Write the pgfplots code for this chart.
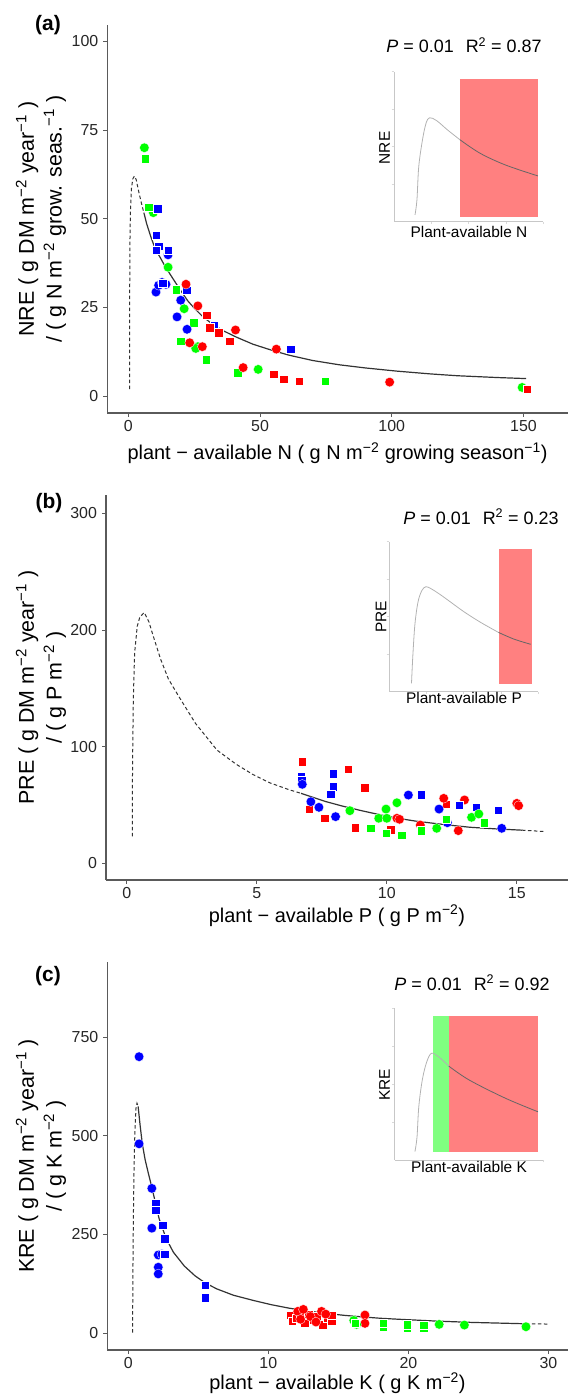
\documentclass[border=0pt]{standalone}
\usepackage{fontspec}
\setmainfont{Liberation Sans}
\usepackage{pgfplots}
\pgfplotsset{compat=1.18}

\definecolor{fitgray}{RGB}{51,51,51}
\definecolor{axgray}{RGB}{90,90,90}

\pgfplotsset{
  mainax/.style={anchor=south west, scale only axis, clip=false,
    axis x line*=bottom, axis y line*=left,
    axis line style={axgray, line width=1.1bp},
    tick align=outside, major tick length=4bp,
    tick style={axgray, line width=0.9bp},
    ticklabel style={font=\fontsize{16}{18}\selectfont, text=black!85},
    yticklabel style={xshift=-1.5bp},
    /pgf/number format/assume math mode=true},
  inset/.style={anchor=south west, scale only axis, clip=false,
    xmin=0, xmax=100, ymin=0, ymax=100,
    axis x line*=bottom, axis y line*=left,
    axis line style={black!22, line width=0.7bp},
    tick align=outside, major tick length=2.5bp,
    tick style={black!15, line width=0.5bp},
    xtick={25,50,75,100}, ytick={25,50,75,100},
    xticklabels={}, yticklabels={}},
  fit/.style={no marks, fitgray, line width=1.2bp},
  extra/.style={no marks, fitgray, line width=1bp, dash pattern=on 3.5bp off 2.5bp},
  icurve/.style={no marks, smooth, tension=0.55, line width=0.8bp},
  pc/.style={only marks, mark=*, mark size=4.8bp, mark options={fill=#1, draw=white, line width=0.3bp}},
  ps/.style={only marks, mark=square*, mark size=4.3bp, mark options={fill=#1, draw=white, line width=0.3bp}},
}

\newcommand{\lab}{\fontsize{20}{27}\selectfont}
\newcommand{\ylab}{\fontsize{21.5}{28}\selectfont}
\newcommand{\anno}{\fontsize{18}{20}\selectfont}
\newcommand{\ins}{\fontsize{15.5}{17}\selectfont}

\begin{document}
\begin{tikzpicture}
\path[use as bounding box] (0bp,0bp) rectangle (568bp,1400bp);

% ---------------- (a) NRE ----------------
\begin{axis}[mainax, at={(107.3bp,987bp)}, width=460.7bp, height=388.3bp,
  xmin=-7.97, xmax=166.9, ymin=-4.8, ymax=104.7,
  xtick={0,50,100,150}, ytick={0,25,50,75,100}]
\addplot[extra] coordinates {(0.5,1.9) (0.52,20) (0.56,35) (0.65,45) (0.85,53) (1.2,58.5)
  (1.7,61.2) (2.3,62) (3.0,61) (4.0,57.5) (5.0,54.3) (5.9,51.7)};
\addplot[fit] coordinates {(5.9,51.7) (7,48.5) (8.5,45) (10.3,41.3) (12,39.2) (14,36.5)
  (17.1,32.9) (20,29.6) (22.6,26.8) (25,24.8) (28.1,22.5) (32,20.2) (36.3,18.3) (41,16.6)
  (47.3,14.6) (54,13) (61,11.5) (70,10) (80,8.8) (90,7.9) (102,7.0) (115,6.2) (125,5.7)
  (140,5.2) (151,4.9)};
\addplot[pc=green] coordinates {(6.1,70.0) (9.5,51.7) (15.1,36.3) (21.2,24.6) (26.4,13.9)
  (25.6,13.4) (49.3,7.5) (149.5,2.4)};
\addplot[ps=green] coordinates {(6.4,66.9) (7.8,53.3) (18.1,30.0) (24.7,20.7) (19.9,15.5)
  (29.5,10.3) (41.4,6.6) (74.7,4.2)};
\addplot[pc=blue] coordinates {(10.5,29.3) (11.5,31.2) (12.8,32.0) (14.3,31.5) (15.1,39.8)
  (19.9,27.0) (18.5,22.3) (22.3,18.8)};
\addplot[ps=blue] coordinates {(11.2,52.8) (10.5,45.4) (11.6,42.3) (10.5,41.1) (15.1,41.1)
  (13.0,31.8) (22.1,29.8) (32.6,19.9) (61.6,13.2)};
\addplot[pc=red] coordinates {(21.9,31.5) (26.4,25.4) (40.7,18.6) (23.3,15.0) (28.1,13.9)
  (43.6,8.0) (56.2,13.2) (99.2,3.9)};
\addplot[ps=red] coordinates {(29.7,22.8) (30.8,19.3) (34.2,17.9) (38.4,15.5) (55.2,6.1)
  (58.9,4.7) (64.8,4.2) (151.4,1.9)};
\end{axis}

\begin{axis}[inset, at={(394bp,1178.3bp)}, width=149bp, height=150bp]
\addplot[fill=red!50, draw=none] coordinates {(44.3,3.3) (96.6,3.3) (96.6,95.1) (44.3,95.1)} -- cycle;
\addplot[icurve, black!30] coordinates {(14.1,4.5) (15.4,14.5) (16.6,36.7)
  (19.1,54.5) (21.5,65.6) (23.9,69.3) (28.7,67.3) (36,61.1) (44.3,54.6)};
\addplot[icurve, black!60] coordinates {(44.3,54.6) (57.8,45.6)
  (74.8,37.8) (96.6,30.5)};
\end{axis}

% ---------------- (b) PRE ----------------
\begin{axis}[mainax, at={(106bp,520bp)}, width=462bp, height=385bp,
  xmin=-0.8, xmax=16.97, ymin=-14.3, ymax=315.7,
  xtick={0,5,10,15}, ytick={0,100,200,300}]
\addplot[extra] coordinates {(0.21,23) (0.22,80) (0.25,140) (0.3,180) (0.4,203) (0.5,211)
  (0.67,215) (0.85,207) (1.0,196) (1.3,175) (1.6,158) (2.0,143) (2.64,120) (3.47,97)
  (4.2,85) (4.86,76) (5.5,69) (6.25,63) (6.7,60)};
\addplot[fit] coordinates {(6.7,60) (7.64,53) (8.3,49) (9.03,45.1) (9.7,41.8) (10.42,38.6)
  (11.1,36.2) (11.8,34.3) (12.5,32.5) (13.2,30.9) (14.2,29.5) (15.2,28.4)};
\addplot[extra] coordinates {(15.2,28.4) (16.1,27.2)};
\addplot[ps=red] coordinates {(6.74,87.1) (7.01,46.5) (7.61,38.6) (8.51,80.8) (9.14,65.1)
  (8.79,30.5) (10.14,29.1) (12.29,50.8)};
\addplot[pc=red] coordinates {(10.39,38.6) (10.49,37.7) (11.29,32.8) (12.19,55.7)
  (12.75,28.0) (12.99,54.3) (15.0,51.4) (15.07,49.4)};
\addplot[ps=blue] coordinates {(6.7,74.5) (6.72,71) (7.94,77.1) (7.94,65.7) (7.85,59.4)
  (11.32,59.1) (12.78,50.0) (13.44,48.0) (14.28,45.7)};
\addplot[pc=blue] coordinates {(6.75,67.7) (7.08,52.8) (7.39,48.0) (8.03,40.0) (10.83,58.5)
  (12.01,46.5) (12.33,34.8) (14.42,30.0)};
\addplot[pc=green] coordinates {(8.58,45.1) (9.69,38.6) (9.97,46.5) (10.0,38.6) (10.39,51.9)
  (11.92,30.0) (13.26,39.4) (13.54,42.3)};
\addplot[ps=green] coordinates {(9.38,30.0) (9.97,25.7) (10.56,24.3) (11.32,28.0)
  (12.29,37.7) (13.75,35.1)};
\end{axis}

\begin{axis}[inset, at={(389bp,708.3bp)}, width=149bp, height=150bp]
\addplot[fill=red!50, draw=none] coordinates {(73.5,4.9) (96.2,4.9) (96.2,95.1) (73.5,95.1)} -- cycle;
\addplot[icurve, black!30] coordinates {(15.1,5.6) (16.0,24) (17.4,45)
  (19.5,60) (22.1,67.5) (24.8,70) (28.5,68.5) (34,65) (41,60) (50,53.5) (61,46.5) (73.5,39.5)};
\addplot[icurve, black!60] coordinates {(73.5,39.5) (84,35) (95.1,31.6)};
\end{axis}

% ---------------- (c) KRE ----------------
\begin{axis}[mainax, at={(107.3bp,50bp)}, width=460.7bp, height=388.3bp,
  xmin=-1.5, xmax=31.4, ymin=-43, ymax=942,
  xtick={0,10,20,30}, ytick={0,250,500,750}]
\addplot[extra] coordinates {(0.31,1) (0.32,100) (0.35,250) (0.4,400) (0.47,510) (0.55,570)
  (0.62,583) (0.7,575)};
\addplot[fit] coordinates {(0.7,575) (0.85,525) (1.0,480) (1.2,440) (1.4,410) (1.68,370)
  (2.2,290) (2.7,240) (3.22,205) (4.0,170) (4.77,145) (5.5,127) (6.32,112) (7.5,96)
  (8.9,83) (10.2,72) (11.5,63) (12.8,56) (14.1,50) (15.4,45) (16.7,41) (18,37.5)
  (19.3,35) (21.9,30.5) (24.5,27) (28.4,23.5)};
\addplot[extra] coordinates {(28.4,23.5) (30.1,22.8)};
\addplot[pc=blue] coordinates {(0.77,701) (0.77,480) (1.68,367) (1.68,266) (2.14,198)
  (2.4,200) (2.14,167) (2.14,150)};
\addplot[ps=blue] coordinates {(1.94,329) (1.94,312) (2.45,274) (2.58,240) (2.58,200)
  (5.49,122) (5.49,90)};
\addplot[ps=red] coordinates {(11.6,45) (11.7,30) (12.0,38) (12.3,50) (12.6,25) (12.9,48)
  (13.2,33) (13.5,42) (13.9,22) (14.2,38) (14.5,30) (14.5,45)};
\addplot[pc=red] coordinates {(12.1,55) (12.5,60) (13.0,42) (13.4,28) (13.8,55) (14.1,48)
  (12.3,35) (16.9,45.7) (16.9,24.6)};
\addplot[pc=green] coordinates {(16.1,32) (16.3,22) (22.2,22) (24.0,20.3) (28.4,16)};
\addplot[ps=green] coordinates {(16.2,25) (18.2,15) (18.2,25) (19.9,13) (19.9,22)
  (21.1,12) (21.1,20)};
\end{axis}

\begin{axis}[inset, at={(394.6bp,240bp)}, width=148.4bp, height=151.7bp]
\addplot[fill=green!50, draw=none] coordinates {(25.9,5.1) (36.5,5.1) (36.5,95.1) (25.9,95.1)} -- cycle;
\addplot[fill=red!50, draw=none] coordinates {(36.5,5.1) (96.6,5.1) (96.6,95.1) (36.5,95.1)} -- cycle;
\addplot[icurve, black!30] coordinates {(13.7,5.5) (15.1,15) (16.3,35.2)
  (18.7,53) (21.6,64.5) (24.8,70.3) (29.6,68.1) (36.5,61.9)};
\addplot[icurve, black!60] coordinates {(36.5,61.9) (50.3,52.7)
  (74.7,40.7) (96.6,31.8)};
\end{axis}

% ---------------- text ----------------
\node[font=\fontsize{21}{24}\selectfont\bfseries] at (48bp,1375bp) {(a)};
\node[font=\fontsize{21}{24}\selectfont\bfseries] at (49bp,897bp) {(b)};
\node[font=\fontsize{21}{24}\selectfont\bfseries] at (48bp,424bp) {(c)};

\node[font=\ylab, align=center, rotate=90] at (41bp,1181bp)
  {NRE ( g DM m\textsuperscript{−2} year\textsuperscript{−1} )\\/ ( g N m\textsuperscript{−2} grow. seas.\textsuperscript{−1} )};
\node[font=\ylab, align=center, rotate=90] at (41bp,712.5bp)
  {PRE ( g DM m\textsuperscript{−2} year\textsuperscript{−1} )\\/ ( g P m\textsuperscript{−2} )};
\node[font=\ylab, align=center, rotate=90] at (41bp,244bp)
  {KRE ( g DM m\textsuperscript{−2} year\textsuperscript{−1} )\\/ ( g K m\textsuperscript{−2} )};

\node[font=\lab] at (337.5bp,947bp) {plant − available N ( g N m\textsuperscript{−2} growing season\textsuperscript{−1})};
\node[font=\lab] at (337bp,484.5bp) {plant − available P ( g P m\textsuperscript{−2})};
\node[font=\lab] at (337.5bp,17bp) {plant − available K ( g K m\textsuperscript{−2})};

\node[font=\anno] at (464bp,1355bp) {\textit{P} = 0.01\hspace{12bp}R\textsuperscript{2} = 0.87};
\node[font=\anno] at (481bp,883.3bp) {\textit{P} = 0.01\hspace{12bp}R\textsuperscript{2} = 0.23};
\node[font=\anno] at (472bp,417.3bp) {\textit{P} = 0.01\hspace{12bp}R\textsuperscript{2} = 0.92};

\node[font=\ins, rotate=90] at (384.5bp,1252bp) {NRE};
\node[font=\ins] at (469bp,1168.3bp) {Plant-available N};
\node[font=\ins, rotate=90] at (381bp,783.3bp) {PRE};
\node[font=\ins] at (464bp,701.7bp) {Plant-available P};
\node[font=\ins, rotate=90] at (384.5bp,315bp) {KRE};
\node[font=\ins] at (469bp,233.3bp) {Plant-available K};
\end{tikzpicture}
\end{document}
